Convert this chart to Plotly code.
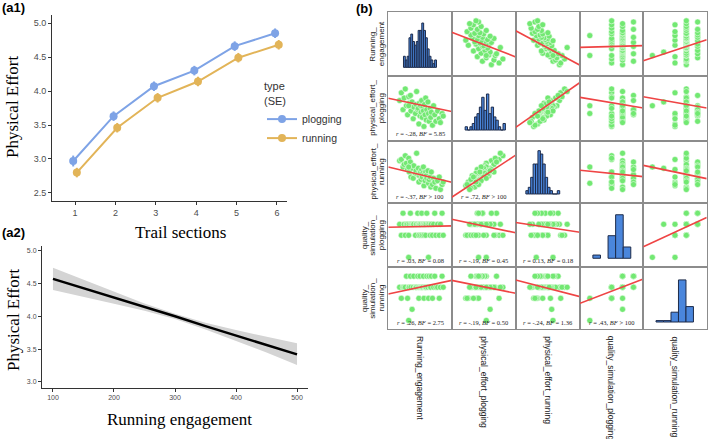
import numpy as np
import plotly.graph_objects as go

W, H = 709, 439

# ---------------- (a1) data ----------------
sections = [1, 2, 3, 4, 5, 6]
plog_mean = [2.97, 3.63, 4.07, 4.30, 4.66, 4.85]
plog_se = [0.08, 0.07, 0.07, 0.07, 0.07, 0.07]
run_mean = [2.80, 3.46, 3.90, 4.14, 4.49, 4.68]
run_se = [0.07, 0.07, 0.07, 0.07, 0.07, 0.07]

# ---------------- (a2) data ----------------
eng_x = [100, 150, 200, 250, 300, 350, 400, 450, 500]
eng_fit = [4.57, 4.43, 4.28, 4.14, 4.00, 3.85, 3.71, 3.57, 3.42]
eng_lo = [4.40, 4.30, 4.19, 4.085, 3.96, 3.80, 3.63, 3.45, 3.26]
eng_hi = [4.74, 4.56, 4.37, 4.195, 4.04, 3.90, 3.79, 3.69, 3.59]

# ---------------- (b) data ----------------
var_names = ["Running_engagement", "physical_effort_plogging", "physical_effort_running",
             "quality_simulation_plogging", "quality_simulation_running"]
row_label_lines = [["Running_", "engagement"], ["physical_effort_", "plogging"],
                   ["physical_effort_", "running"], ["quality_", "simulation_", "plogging"],
                   ["quality_", "simulation_", "running"]]

running_engagement = [120, 135, 150, 160, 170, 180, 190, 200, 205, 215, 220, 230, 240, 245, 200,
                      260, 265, 270, 280, 285, 290, 295, 300, 305, 310, 315, 320, 325, 330, 335,
                      340, 345, 350, 355, 360, 370, 375, 380, 390, 395, 400, 410, 420, 430, 440,
                      455, 470, 480, 495, 505]
effort_plogging = [4.6, 5.2, 3.9, 4.8, 5.5, 4.2, 3.5, 4.9, 4.4, 5.0, 3.8, 4.5, 3.2, 4.1, 4.2,
                   3.6, 4.3, 5.3, 3.9, 4.0, 2.8, 4.4, 3.4, 4.2, 3.7, 4.6, 3.3, 4.1, 3.8, 2.6,
                   4.3, 3.5, 4.8, 3.1, 3.9, 4.5, 3.6, 3.0, 4.0, 3.3, 3.7, 2.7, 4.2, 3.5, 3.0,
                   3.8, 3.2, 2.9, 3.6, 3.4]
effort_running = [4.9, 5.0, 4.4, 4.6, 5.3, 4.7, 4.2, 5.1, 4.0, 4.8, 3.6, 4.3, 3.5, 4.5, 4.4,
                  3.9, 4.1, 5.5, 3.8, 4.3, 3.2, 3.7, 3.9, 4.0, 3.4, 4.2, 3.6, 3.9, 4.4, 2.9,
                  3.8, 3.3, 4.0, 3.7, 3.5, 4.1, 3.1, 3.4, 3.6, 2.8, 4.0, 3.0, 3.5, 3.2, 2.7,
                  3.3, 3.6, 2.6, 3.0, 3.2]
quality_plogging = [6, 5, 7, 6, 5, 6, 6, 5, 6, 7, 6, 6, 6, 6, 3,
                    5, 6, 6, 7, 6, 5, 6, 6, 5, 6, 7, 5, 6, 6, 5,
                    6, 6, 5, 6, 7, 6, 3, 6, 5, 6, 6, 5, 6, 7, 5,
                    6, 5, 6, 7, 5]
quality_running = [6, 5, 6, 6, 6, 7, 5, 6, 6, 7, 6, 4, 6, 7, 3,
                   6, 6, 6, 7, 6, 5, 6, 7, 6, 6, 6, 6, 6, 7, 5,
                   6, 6, 6, 6, 7, 6, 5, 7, 6, 6, 7, 5, 6, 7, 6,
                   6, 5, 6, 7, 6]

# axis ranges of each variable in the scatter cells
var_range = [[20, 580], [1.5, 6.5], [1.5, 6.5], [2.1, 7.9], [2.2, 7.8]]

# histograms (diagonal), bin counts
re_hist_start, re_hist_width = 154, 16.2
re_hist_counts = [3, 2, 3, 8, 9, 7, 6, 7, 10, 10, 12, 10, 8, 5, 3, 2, 1, 2]
pep_hist_start, pep_hist_width = 2.55, 0.185
pep_hist_counts = [1, 0, 1, 2, 4, 5, 7, 10, 6, 11, 5, 7, 4, 3, 1, 0, 2]
per_hist_start, per_hist_width = 2.29, 0.188
per_hist_counts = [1, 2, 5, 9, 9, 13, 12, 9, 5, 2, 1, 0, 0, 1]
hist_x_range = [[20, 580], [1.5, 6.5], [1.5, 6.5], [0.8, 9.15], [0.8, 9.27]]
hist_y_range = [[-2.34, 14.9], [-3.26, 16.5], [-2.8, 16.0], [-5.6, 34.1], [-5.2, 39.0]]

# regression lines: (row, col, y at left edge, y at right edge)
fit_row = [0, 0, 0, 0, 1, 1, 1, 1, 2, 2, 2, 2, 3, 3, 3, 3, 4, 4, 4, 4]
fit_col = [1, 2, 3, 4, 0, 2, 3, 4, 0, 1, 3, 4, 0, 1, 2, 4, 0, 1, 2, 3]
fit_left = [404, 418, 272, 154, 4.78, 2.53, 4.85, 4.90, 4.40, 1.98, 4.14, 4.53,
            5.73, 6.45, 6.16, 3.97, 5.39, 6.62, 6.65, 4.55]
fit_right = [188, 115, 287, 339, 3.75, 6.00, 4.03, 4.03, 3.18, 5.35, 3.63, 3.47,
             5.85, 5.23, 5.27, 6.62, 6.62, 5.45, 5.15, 6.74]

# correlation annotations in the lower triangle
ann_row = [1, 2, 2, 3, 3, 3, 4, 4, 4, 4]
ann_col = [0, 0, 1, 0, 1, 2, 0, 1, 2, 3]
ann_r = ["-.28", "-.37", ".72", ".03", "-.19", "0.13", ".26", "-.19", "-.24", ".43"]
ann_bf = ["= 5.85", "> 100", "> 100", "= 0.08", "= 0.45", "= 0.18", "= 2.75", "= 0.50", "= 1.36", "> 100"]

# ---------------- colours / styles ----------------
C_PLOG = "#7ea3e6"
C_RUN = "#e2b458"
C_PT = "#72e872"
C_FIT = "#ef4444"
C_BAR = "#4a86dc"
C_BAR_EDGE = "#1d2b4a"
C_GRID = "#8c8c8c"
SANS = "Liberation Sans, Arial, sans-serif"
SERIF = "Liberation Serif, Times New Roman, serif"


def xdom(a, b):
    return [a / W, b / W]


def ydom(top, bottom):
    return [1 - bottom / H, 1 - top / H]


fig = go.Figure()
layout = dict(width=W, height=H, margin=dict(l=0, r=0, t=0, b=0),
              paper_bgcolor="white", plot_bgcolor="white", showlegend=True)

# ---------------- (a1) ----------------
dodge = 0.045
fig.add_trace(go.Scatter(x=[s - dodge for s in sections], y=plog_mean, mode="lines+markers",
                         name="plogging", line=dict(color=C_PLOG, width=2),
                         marker=dict(color=C_PLOG, size=8),
                         error_y=dict(type="data", array=plog_se, color=C_PLOG, thickness=2, width=0),
                         xaxis="x", yaxis="y"))
fig.add_trace(go.Scatter(x=[s + dodge for s in sections], y=run_mean, mode="lines+markers",
                         name="running", line=dict(color=C_RUN, width=2),
                         marker=dict(color=C_RUN, size=8),
                         error_y=dict(type="data", array=run_se, color=C_RUN, thickness=2, width=0),
                         xaxis="x", yaxis="y"))
axis_common = dict(showgrid=False, zeroline=False, showline=True, linecolor="#333333", linewidth=1,
                   ticks="outside", ticklen=3, tickcolor="#333333")
layout["xaxis"] = dict(domain=xdom(52, 287), range=[0.43, 6.25], tickvals=sections,
                       tickfont=dict(family=SANS, size=9, color="#4d4d4d"), anchor="y", **axis_common)
layout["yaxis"] = dict(domain=ydom(15, 201), range=[2.382, 5.118], tickvals=[2.5, 3.0, 3.5, 4.0, 4.5, 5.0],
                       tickformat=".1f", tickfont=dict(family=SANS, size=9, color="#4d4d4d"),
                       anchor="x", **axis_common)

# ---------------- (a2) ----------------
fig.add_trace(go.Scatter(x=eng_x, y=eng_hi, mode="lines", line=dict(width=0, color="#d4d4d4"),
                         showlegend=False, hoverinfo="skip", xaxis="x2", yaxis="y2"))
fig.add_trace(go.Scatter(x=eng_x, y=eng_lo, mode="lines", line=dict(width=0, color="#d4d4d4"),
                         fill="tonexty", fillcolor="#d4d4d4",
                         showlegend=False, hoverinfo="skip", xaxis="x2", yaxis="y2"))
fig.add_trace(go.Scatter(x=eng_x, y=eng_fit, mode="lines", line=dict(color="black", width=2.5),
                         showlegend=False, xaxis="x2", yaxis="y2"))
layout["xaxis2"] = dict(domain=xdom(42, 308), range=[82, 518], tickvals=[100, 200, 300, 400, 500],
                        tickfont=dict(family=SANS, size=7, color="#4d4d4d"), anchor="y2", **axis_common)
layout["yaxis2"] = dict(domain=ydom(246, 388), range=[2.908, 5.07], tickvals=[3.0, 3.5, 4.0, 4.5, 5.0],
                        tickformat=".1f", tickfont=dict(family=SANS, size=7, color="#4d4d4d"),
                        anchor="x2", **axis_common)

# ---------------- (b) matrix ----------------
data = [running_engagement, effort_plogging, effort_running, quality_plogging, quality_running]
XE = [388.3, 451.7, 515.7, 580.0, 643.3, 706.7]
YE = [12.3, 76.0, 140.7, 203.3, 267.3, 329.3]

hists = {
    0: (re_hist_start, re_hist_width, re_hist_counts),
    1: (pep_hist_start, pep_hist_width, pep_hist_counts),
    2: (per_hist_start, per_hist_width, per_hist_counts),
}

annotations = []
for i in range(5):
    for j in range(5):
        n = 3 + i * 5 + j
        xa, ya = "x%d" % n, "y%d" % n
        if i == j:
            if i in hists:
                st, wd, cnt = hists[i]
                centers = [st + wd * (k + 0.5) for k in range(len(cnt))]
                counts = cnt
                width = wd
            else:
                vals, cts = np.unique(np.array(data[i]), return_counts=True)
                centers = vals.tolist()
                counts = cts.tolist()
                width = 1.0
            fig.add_trace(go.Bar(x=centers, y=counts, width=width,
                                 marker=dict(color=C_BAR, line=dict(color=C_BAR_EDGE, width=1)),
                                 showlegend=False, xaxis=xa, yaxis=ya))
            xr, yr = hist_x_range[i], hist_y_range[i]
        else:
            fig.add_trace(go.Scatter(x=data[j], y=data[i], mode="markers",
                                     marker=dict(color=C_PT, size=6,
                                                 line=dict(color="rgba(255,255,255,0.85)", width=0.6)),
                                     showlegend=False, xaxis=xa, yaxis=ya))
            xr, yr = var_range[j], var_range[i]
        layout["xaxis%d" % n] = dict(domain=xdom(XE[j], XE[j + 1]), range=xr, anchor=ya,
                                      showticklabels=False, showgrid=False, zeroline=False, ticks="",
                                      showline=True, mirror=True, linecolor=C_GRID, linewidth=1.3)
        layout["yaxis%d" % n] = dict(domain=ydom(YE[i], YE[i + 1]), range=yr, anchor=xa,
                                      showticklabels=False, showgrid=False, zeroline=False, ticks="",
                                      showline=True, mirror=True, linecolor=C_GRID, linewidth=1.3)

for k in range(len(fit_row)):
    i, j = fit_row[k], fit_col[k]
    n = 3 + i * 5 + j
    fig.add_trace(go.Scatter(x=var_range[j], y=[fit_left[k], fit_right[k]], mode="lines",
                             line=dict(color=C_FIT, width=1.6), showlegend=False,
                             xaxis="x%d" % n, yaxis="y%d" % n))

for k in range(len(ann_row)):
    i, j = ann_row[k], ann_col[k]
    cx = (XE[j] + XE[j + 1]) / 2
    cy = YE[i + 1] - 7
    annotations.append(dict(xref="paper", yref="paper", x=cx / W, y=1 - cy / H,
                            text="<i>r</i> = %s, <i>BF</i> %s" % (ann_r[k], ann_bf[k]),
                            showarrow=False, xanchor="center", yanchor="middle",
                            font=dict(family=SERIF, size=6.5, color="#222222")))

# row labels (left), one annotation per text line, right-most line next to the matrix
for i in range(5):
    cy = (YE[i] + YE[i + 1]) / 2
    lines = row_label_lines[i]
    nl = len(lines)
    for m, ln in enumerate(lines):
        lx = 381 - (nl - 1 - m) * 8.5
        annotations.append(dict(xref="paper", yref="paper", x=lx / W, y=1 - cy / H,
                                text=ln, textangle=-90, showarrow=False,
                                xanchor="center", yanchor="middle",
                                font=dict(family=SANS, size=8, color="#222222")))
# column labels (bottom)
for j in range(5):
    cx = (XE[j] + XE[j + 1]) / 2
    annotations.append(dict(xref="paper", yref="paper", x=cx / W, y=1 - 334 / H,
                            text=var_names[j], textangle=90, showarrow=False,
                            xanchor="center", yanchor="top",
                            font=dict(family=SANS, size=8.5, color="#222222")))


def txt(xp, yp, text, size, family=SERIF, angle=0, xanchor="center", bold=False):
    return dict(xref="paper", yref="paper", x=xp / W, y=1 - yp / H,
                text=("<b>%s</b>" % text) if bold else text, textangle=angle, showarrow=False,
                xanchor=xanchor, yanchor="middle", font=dict(family=family, size=size, color="black"))


annotations += [
    txt(13, 107, "Physical Effort", 17, angle=-90),
    txt(180, 232, "Trail sections", 17),
    txt(13, 320, "Physical Effort", 17, angle=-90),
    txt(179, 419, "Running engagement", 17),
    txt(0, 8, "(a1)", 13, family=SANS, xanchor="left", bold=True),
    txt(0, 232, "(a2)", 13, family=SANS, xanchor="left", bold=True),
    txt(354, 9, "(b)", 13, family=SANS, xanchor="left", bold=True),
]
layout["annotations"] = annotations
layout["legend"] = dict(x=262 / W, y=1 - 76 / H, xanchor="left", yanchor="top",
                        bgcolor="rgba(0,0,0,0)", traceorder="normal", itemwidth=30,
                        title=dict(text="type<br>(SE)", font=dict(family=SANS, size=11, color="#333333")),
                        font=dict(family=SANS, size=10.5, color="#333333"), tracegroupgap=0)

fig.update_layout(**layout)
fig.write_html("out.html")
